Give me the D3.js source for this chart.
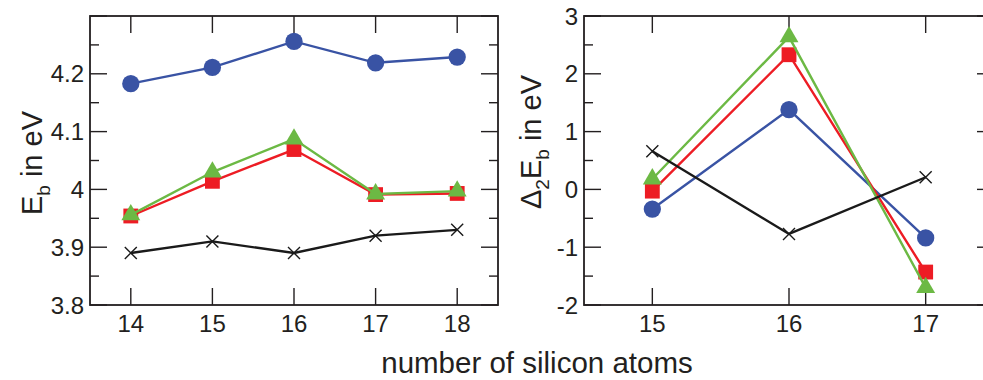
<!DOCTYPE html>
<html>
<head>
<meta charset="utf-8">
<script src="https://cdn.jsdelivr.net/npm/d3@7"></script>
<style>
body { margin: 0; background: #fff; }
svg { display: block; font-family: Arial, "Liberation Sans", Helvetica, sans-serif; }
</style>
</head>
<body>
<svg width="983" height="380"></svg>
<script>
'use strict';

// left panel: binding energy per atom
const atomsLeft = [14, 15, 16, 17, 18];
const ebBlue  = [4.183, 4.211, 4.256, 4.219, 4.229];
const ebRed   = [3.954, 4.014, 4.069, 3.991, 3.993];
const ebGreen = [3.956, 4.030, 4.087, 3.992, 3.997];
const ebBlack = [3.89, 3.91, 3.89, 3.92, 3.93];
const leftYTicks = [3.8, 3.9, 4, 4.1, 4.2];

// right panel: second difference
const atomsRight = [15, 16, 17];
const d2Blue  = [-0.34, 1.38, -0.84];
const d2Red   = [-0.03, 2.33, -1.43];
const d2Green = [0.18, 2.64, -1.70];
const d2Black = [0.66, -0.77, 0.21];
const rightYTicks = [-2, -1, 0, 1, 2, 3];

const colors = { blue: '#3953a4', red: '#ed1c24', green: '#6cb944', black: '#1a1a1a' };

const svg = d3.select('svg');
const ink = '#231f20';

function panel(opt) {
	const x = d3.scaleLinear().domain(opt.xDomain).range([opt.left, opt.right]);
	const y = d3.scaleLinear().domain(opt.yDomain).range([opt.bottom, opt.top]);
	const $g = svg.append('g');

	const major = 17, minor = 9;
	const tickStyle = s => s.attr('stroke', ink).attr('stroke-width', 1.4);

	// x ticks top + bottom
	opt.xTicks.forEach(v => {
		$g.append('line').attr('x1', x(v)).attr('x2', x(v))
			.attr('y1', opt.bottom).attr('y2', opt.bottom - major).call(tickStyle);
		$g.append('line').attr('x1', x(v)).attr('x2', x(v))
			.attr('y1', opt.top).attr('y2', opt.top + major).call(tickStyle);
		$g.append('text').attr('x', x(v)).attr('y', opt.bottom + 27)
			.attr('text-anchor', 'middle').attr('font-size', 24).attr('fill', ink)
			.text(v);
	});

	// y ticks left + right, minor in between
	const step = opt.yTicks[1] - opt.yTicks[0];
	opt.yTicks.concat([opt.yDomain[1]]).forEach(v => {
		$g.append('line').attr('x1', opt.left).attr('x2', opt.left + major)
			.attr('y1', y(v)).attr('y2', y(v)).call(tickStyle);
		$g.append('line').attr('x1', opt.right).attr('x2', opt.right - major)
			.attr('y1', y(v)).attr('y2', y(v)).call(tickStyle);
	});
	opt.yTicks.forEach(v => {
		const m = v + step / 2;
		$g.append('line').attr('x1', opt.left).attr('x2', opt.left + minor)
			.attr('y1', y(m)).attr('y2', y(m)).call(tickStyle);
		$g.append('line').attr('x1', opt.right).attr('x2', opt.right - minor)
			.attr('y1', y(m)).attr('y2', y(m)).call(tickStyle);
		$g.append('text').attr('x', opt.left - 6).attr('y', y(v) + 8.5)
			.attr('text-anchor', 'end').attr('font-size', 24).attr('fill', ink)
			.text(d3.format('~g')(v).replace('−', '-'));
	});

	$g.append('rect')
		.attr('x', opt.left).attr('y', opt.top)
		.attr('width', opt.right - opt.left).attr('height', opt.bottom - opt.top)
		.attr('fill', 'none').attr('stroke', ink).attr('stroke-width', 1.8);

	const line = d3.line().x(d => x(d[0])).y(d => y(d[1]));

	opt.series.forEach(s => {
		const pts = opt.xs.map((v, i) => [v, s.values[i]]);
		$g.append('path').datum(pts).attr('d', line)
			.attr('fill', 'none').attr('stroke', s.color).attr('stroke-width', 2.4);
		const $m = $g.append('g').selectAll('path').data(pts).join('path')
			.attr('transform', d => `translate(${x(d[0])},${y(d[1])})`);
		if (s.shape === 'cross') {
			$m.attr('d', 'M-6,-6L6,6M-6,6L6,-6').attr('stroke', s.color)
				.attr('stroke-width', 1.4).attr('fill', 'none');
		} else {
			const type = { circle: d3.symbolCircle, square: d3.symbolSquare, triangle: d3.symbolTriangle }[s.shape];
			const size = { circle: 235, square: 220, triangle: 155 }[s.shape];
			$m.attr('d', d3.symbol().type(type).size(size)()).attr('fill', s.color);
		}
	});
	return $g;
}

panel({
	left: 90, right: 498, top: 16, bottom: 305,
	xDomain: [13.5, 18.5], yDomain: [3.8, 4.3],
	xTicks: atomsLeft, yTicks: leftYTicks, xs: atomsLeft,
	series: [
		{ values: ebBlue, color: colors.blue, shape: 'circle' },
		{ values: ebRed, color: colors.red, shape: 'square' },
		{ values: ebGreen, color: colors.green, shape: 'triangle' },
		{ values: ebBlack, color: colors.black, shape: 'cross' }
	]
});

panel({
	left: 584, right: 994, top: 16, bottom: 305,
	xDomain: [14.5, 17.5], yDomain: [-2, 3],
	xTicks: atomsRight, yTicks: rightYTicks, xs: atomsRight,
	series: [
		{ values: d2Blue, color: colors.blue, shape: 'circle' },
		{ values: d2Red, color: colors.red, shape: 'square' },
		{ values: d2Green, color: colors.green, shape: 'triangle' },
		{ values: d2Black, color: colors.black, shape: 'cross' }
	]
});

// axis titles
svg.append('text')
	.attr('transform', 'translate(42,163) rotate(-90)')
	.attr('text-anchor', 'middle').attr('font-size', 29).attr('fill', ink)
	.html('E<tspan font-size="19" dy="8">b</tspan><tspan dy="-8"> in eV</tspan>');

svg.append('text')
	.attr('transform', 'translate(541,142) rotate(-90)')
	.attr('text-anchor', 'middle').attr('font-size', 29).attr('fill', ink)
	.html('Δ<tspan font-size="19" dy="8">2</tspan><tspan dy="-8">E</tspan><tspan font-size="19" dy="8">b</tspan><tspan dy="-8"> in eV</tspan>');

svg.append('text')
	.attr('x', 537).attr('y', 373)
	.attr('text-anchor', 'middle').attr('font-size', 29.5).attr('fill', ink)
	.text('number of silicon atoms');
</script>
</body>
</html>
